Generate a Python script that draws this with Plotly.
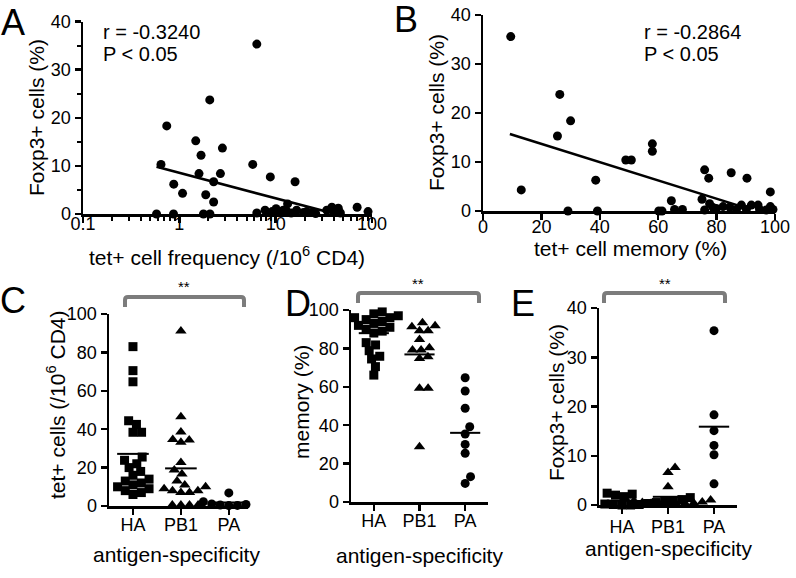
import numpy as np
import plotly.graph_objects as go

# ---------------- data ----------------
# Panel A: tet+ cell frequency (/10^6 CD4) vs Foxp3+ cells (%)
A_freq = [6.37, 2.07, 0.74, 1.48, 2.8, 1.68, 0.645, 5.78, 1.6, 2.67, 8.8, 15.9, 2.27, 0.875,
          1.08, 1.88, 2.27, 13.3, 0.58, 0.87, 1.78, 2.08, 6.37, 7.76, 8.1, 9.2, 10.1, 11.0,
          12.0, 13.0, 14.5, 16.5, 19.4, 21.0, 23.7, 26.0, 33.9, 38.3, 40.0, 42.0, 44.7, 47.0,
          70.1, 91.0]
A_foxp3 = [35.3, 23.7, 18.3, 15.2, 13.7, 12.2, 10.3, 10.3, 8.4, 8.4, 7.7, 6.7, 6.7, 6.2,
           4.3, 4.0, 2.5, 2.1, 0, 0, 0, 0, 0.2, 0.8, 0.3, 0.5, 1.1, 0.4,
           0.8, 0.6, 0.2, 0.8, 0.3, 0.5, 0.3, 0.1, 0.8, 1.4, 0.3, 0.4, 1.2, 0.2,
           1.4, 0.5]
A_fit_x = [0.58, 35.0]
A_fit_y = [9.8, 0.4]
A_stats = ["r = -0.3240", "P < 0.05"]

# Panel B: tet+ cell memory (%) vs Foxp3+ cells (%)
B_mem = [9.5, 26.3, 30.0, 25.5, 58.0, 58.0, 48.9, 50.8, 38.6, 13.1, 75.9, 77.3, 85.0, 90.4,
         98.4, 64.5, 75.0, 29.1, 39.2, 60.2, 61.3, 65.6, 68.3, 75.9, 77.6, 78.8, 79.9, 82.2,
         84.5, 86.8, 88.5, 90.2, 91.9, 94.2, 94.7, 97.0, 98.4, 99.3]
B_foxp3 = [35.6, 23.8, 18.4, 15.3, 13.7, 12.2, 10.4, 10.4, 6.3, 4.3, 8.4, 6.7, 7.8, 6.7,
           3.9, 2.1, 2.4, 0, 0, 0, 0, 0.3, 0.3, 0.2, 1.5, 0.7, 0.5, 0.9,
           0.8, 0.3, 1.2, 0.3, 1.2, 1.2, 0.3, 0.2, 0.9, 0.3]
B_fit_x = [9.2, 87.0]
B_fit_y = [15.7, 1.2]
B_stats = ["r = -0.2864", "P < 0.05"]

groups = ["HA", "PB1", "PA"]

# Panel C: tet+ cells (/10^6 CD4)
C_HA = [83.0, 70.5, 64.7, 44.4, 42.5, 38.4, 38.4, 25.5, 23.8, 22, 20, 18, 16, 14, 13, 12,
        11, 10, 9, 8, 7, 6]
C_PB1 = [91.1, 46.5, 38.5, 34.7, 34.4, 33.2, 22.6, 18.8, 16.7, 13, 11, 9, 8, 7, 7, 8, 10,
         0.5, 0.5, 0.5, 0.5]
C_PA = [6.8, 3.0, 2.2, 1.6, 1.1, 0.8, 0.5, 0.3, 0.2]

# Panel D: memory (%)
D_HA = [99, 98, 98, 97, 96, 96, 95, 94, 93, 92, 91, 90, 89, 88, 83, 81.8, 78.8, 75.9,
        74.5, 70.5, 66.1]
D_PB1 = [93.4, 91.8, 91.3, 89.2, 89.2, 84.7, 80.4, 79.2, 79.2, 75.7, 74.8, 59.2, 59.2, 28.8]
D_PA = [64.7, 57.8, 48.8, 39.2, 35.4, 30.0, 25.4, 13.2, 9.7]

# Panel E: Foxp3+ cells (%)
E_HA = [2.4, 2.2, 2.0, 1.7, 1.5, 1.3, 1.1, 1.0, 0.9, 0.8, 0.7, 0.6, 0.5, 0.4, 0.3, 0.2,
        0.1, 0.1, 0.0, 0.0]
E_PB1 = [7.6, 6.6, 3.7, 1.2, 1.0, 0.8, 0.6, 0.5, 0.4, 0.3, 0.3, 0.2, 0.1, 0.0]
E_PA = [35.4, 18.3, 15.1, 12.1, 10.2, 4.3]

# ---------------- layout helpers ----------------
W, H = 796, 578
FONT = "Liberation Sans, Arial, Helvetica, sans-serif"


def fx(p):
    return p / W


def fy(p):
    return 1 - p / H


def swarm(vals, ypx, xpx, diam=8.6):
    """Beeswarm offsets (in axis units) computed from values."""
    vals = np.asarray(vals, float)
    order = np.argsort(vals)
    placed = []
    offs = np.zeros(len(vals))
    for i in order:
        y = vals[i] * ypx
        forb = []
        for (xj, yj) in placed:
            dy = abs(y - yj)
            if dy < diam:
                w = np.sqrt(diam ** 2 - dy ** 2)
                forb.append((xj - w, xj + w))
        cands = [0.0] + [e for iv in forb for e in iv]
        cands.sort(key=lambda c: (abs(c), -c))
        best = 0.0
        for c in cands:
            if all(not (lo + 1e-6 < c < hi - 1e-6) for lo, hi in forb):
                best = c
                break
        placed.append((best, y))
        offs[i] = best / xpx
    return offs


fig = go.Figure()

# ---- Panel A
fig.add_trace(go.Scatter(x=A_freq, y=A_foxp3, mode="markers", xaxis="x", yaxis="y",
                         marker=dict(symbol="circle", size=9, color="black"),
                         cliponaxis=False, showlegend=False))
fig.add_trace(go.Scatter(x=A_fit_x, y=A_fit_y, mode="lines", xaxis="x", yaxis="y",
                         line=dict(color="black", width=2.6), cliponaxis=False,
                         showlegend=False))
# ---- Panel B
fig.add_trace(go.Scatter(x=B_mem, y=B_foxp3, mode="markers", xaxis="x2", yaxis="y2",
                         marker=dict(symbol="circle", size=9, color="black"),
                         cliponaxis=False, showlegend=False))
fig.add_trace(go.Scatter(x=B_fit_x, y=B_fit_y, mode="lines", xaxis="x2", yaxis="y2",
                         line=dict(color="black", width=2.6), cliponaxis=False,
                         showlegend=False))

symbols = ["square", "triangle-up", "circle"]
sizes = [9, 10, 9]
panels = [
    ("x3", "y3", [C_HA, C_PB1, C_PA], 1.92, 47.9),
    ("x4", "y4", [D_HA, D_PB1, D_PA], 1.92, 45.7),
    ("x5", "y5", [E_HA, E_PB1, E_PA], 4.925, 46.0),
]
for xa, ya, data, ypx, xpx in panels:
    for gi, vals in enumerate(data):
        off = swarm(vals, ypx, xpx)
        fig.add_trace(go.Scatter(x=gi + off, y=vals, mode="markers", xaxis=xa, yaxis=ya,
                                 marker=dict(symbol=symbols[gi], size=sizes[gi], color="black",
                                             line=dict(width=0)),
                                 cliponaxis=False, showlegend=False))
        m = float(np.mean(vals))
        fig.add_trace(go.Scatter(x=[gi - 0.33, gi + 0.33], y=[m, m], mode="lines",
                                 xaxis=xa, yaxis=ya, line=dict(color="black", width=2),
                                 cliponaxis=False, showlegend=False))

base = dict(showline=True, linecolor="black", linewidth=2.5, ticks="outside", ticklen=6,
            tickwidth=2.5, tickcolor="black", showgrid=False, zeroline=False,
            automargin=False,
            tickfont=dict(size=18, color="black", family=FONT), fixedrange=True)

minor_log = [k * 10.0 ** e for e in (-1, 0, 1) for k in range(2, 10)]

fig.update_layout(
    template="none",
    width=W, height=H, autosize=False,
    margin=dict(l=0, r=0, t=0, b=0, pad=0, autoexpand=False),
    paper_bgcolor="white", plot_bgcolor="rgba(0,0,0,0)",
    font=dict(family=FONT, color="black"),
    hovermode=False,
    xaxis=dict(base, type="log", range=[-1, 2], domain=[fx(83), fx(372)], anchor="y",
               tickvals=[0.1, 1, 10, 100], ticktext=["0.1", "1", "10", "100"],
               ticklabelstandoff=-14,
               minor=dict(tickvals=minor_log, ticks="outside", ticklen=4, tickwidth=2,
                          tickcolor="black")),
    yaxis=dict(base, range=[0, 40], domain=[fy(214), fy(21.5)], anchor="x",
               tickvals=[0, 10, 20, 30, 40],
               minor=dict(tickvals=[5, 15, 25, 35], ticks="outside", ticklen=4,
                          tickwidth=2, tickcolor="black")),
    xaxis2=dict(base, range=[0, 100], domain=[fx(483), fx(775)], anchor="y2",
                tickvals=[0, 20, 40, 60, 80, 100], ticklabelstandoff=-8),
    yaxis2=dict(base, range=[0, 40], domain=[fy(211), fy(15)], anchor="x2",
                tickvals=[0, 10, 20, 30, 40]),
    xaxis3=dict(base, range=[-0.5, 2.4], domain=[fx(109), fx(248)], anchor="y3",
                tickvals=[0, 1, 2], ticktext=groups, ticklabelstandoff=-5),
    yaxis3=dict(base, range=[0, 100], domain=[fy(506), fy(314)], anchor="x3",
                tickvals=[0, 20, 40, 60, 80, 100]),
    xaxis4=dict(base, range=[-0.5, 2.5], domain=[fx(351), fx(488)], anchor="y4",
                tickvals=[0, 1, 2], ticktext=groups, ticklabelstandoff=-5),
    yaxis4=dict(base, range=[0, 100], domain=[fy(502), fy(310)], anchor="x4",
                tickvals=[0, 20, 40, 60, 80, 100]),
    xaxis5=dict(base, range=[-0.5, 2.5], domain=[fx(599), fx(737)], anchor="y5",
                tickvals=[0, 1, 2], ticktext=groups, ticklabelstandoff=-2),
    yaxis5=dict(base, range=[0, 40], domain=[fy(505), fy(308)], anchor="x5",
                tickvals=[0, 10, 20, 30, 40]),
)

ann = []


def text(x, y, s, size, angle=0, xanchor="center"):
    ann.append(dict(x=fx(x), y=fy(y), xref="paper", yref="paper", text=s, showarrow=False,
                    xanchor=xanchor, yanchor="middle", textangle=angle,
                    font=dict(size=size, color="black", family=FONT)))


# panel letters
text(13, 22, "A", 36)
text(406, 20, "B", 36)
text(13, 300, "C", 36)
text(298, 303, "D", 36)
text(523, 303, "E", 36)

# axis titles
text(227.5, 256, "tet+ cell frequency (/10<sup>6</sup> CD4)", 21)
text(36, 118, "Foxp3+ cells (%)", 21, -90)
text(630, 248, "tet+ cell memory (%)", 21)
text(436, 113, "Foxp3+ cells (%)", 21, -90)
text(176, 554, "antigen-specificity", 21)
text(56, 405, "tet+ cells (/10<sup>6</sup> CD4)", 21, -90)
text(420, 555, "antigen-specificity", 21)
text(301, 402, "memory (%)", 21, -90)
text(668, 548, "antigen-specificity", 21)
text(556, 403, "Foxp3+ cells (%)", 21, -90)

# statistics
text(101, 32, A_stats[0], 20, xanchor="left")
text(101, 54, A_stats[1], 20, xanchor="left")
text(642, 32, B_stats[0], 20, xanchor="left")
text(642, 54, B_stats[1], 20, xanchor="left")

# significance brackets
shapes = []
for (x1, x2, yt, yb, sx, sy) in [(125, 244, 297, 307, 184, 287),
                                  (358, 479, 293, 303, 418, 283),
                                  (604, 725, 293, 303, 665, 283)]:
    r = 3
    path = (f"M {fx(x1)},{fy(yb)} L {fx(x1)},{fy(yt + r)} Q {fx(x1)},{fy(yt)} {fx(x1 + r)},{fy(yt)} "
            f"L {fx(x2 - r)},{fy(yt)} Q {fx(x2)},{fy(yt)} {fx(x2)},{fy(yt + r)} L {fx(x2)},{fy(yb)}")
    shapes.append(dict(type="path", path=path, xref="paper", yref="paper",
                       line=dict(color="#7c7c7c", width=4)))
    text(sx, sy, "**", 15)

fig.update_layout(annotations=ann, shapes=shapes)

fig.write_html("out.html", config={"displayModeBar": False, "staticPlot": True},
               post_script="document.body.style.margin='0';document.body.style.overflow='hidden';")
